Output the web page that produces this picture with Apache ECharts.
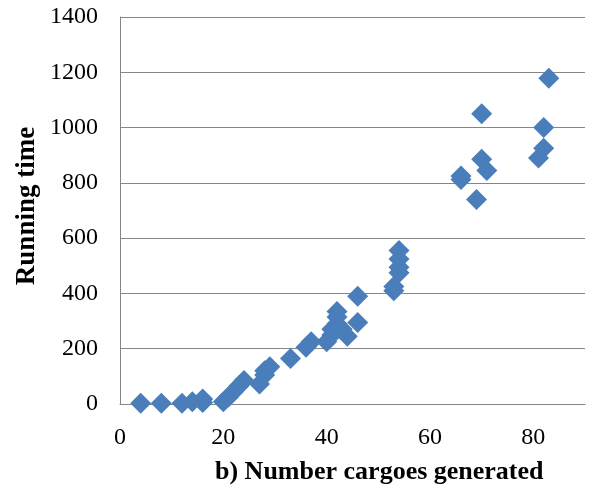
<!DOCTYPE html>
<html>
<head>
<meta charset="utf-8">
<script src="https://cdn.jsdelivr.net/npm/echarts@6/dist/echarts.min.js"></script>
<style>html,body{margin:0;padding:0;background:#fff;}#c{width:589px;height:488px;}</style>
</head>
<body>
<div id="c"></div>
<script>
const cargoes = [4, 8, 12, 14, 16, 16, 20, 21, 22, 23, 24, 27, 28, 28, 29, 33, 36, 37, 40, 41, 41, 42, 42, 42, 43, 44, 46, 46, 53, 53, 54, 54, 54, 54, 66, 66, 69, 70, 70, 71, 81, 82, 82, 83];
const runningTime = [3, 3, 3, 8, 5, 18, 8, 25, 45, 65, 85, 72, 105, 120, 135, 165, 205, 225, 225, 250, 270, 290, 315, 335, 270, 245, 295, 390, 410, 425, 475, 495, 525, 555, 812, 825, 740, 1050, 885, 845, 890, 925, 1000, 1178];
const xTicks = [0, 20, 40, 60, 80];
const yTicks = [0, 200, 400, 600, 800, 1000, 1200, 1400];
const xTitle = 'b) Number cargoes generated';
const yTitle = 'Running time';

const points = cargoes.map((x, i) => [x, runningTime[i]]);
const chart = echarts.init(document.getElementById('c'), null, {renderer: 'canvas'});
const font = 'Liberation Serif';
chart.setOption({
  animation: false,
  backgroundColor: '#fff',
  grid: {left: 120, right: 4, top: 17, bottom: 84, containLabel: false},
  xAxis: {
    type: 'value', min: 0, max: 90, interval: 20,
    axisLine: {show: true, lineStyle: {color: '#868686', width: 1}},
    axisTick: {show: false},
    splitLine: {show: false},
    axisLabel: {
      showMaxLabel: false, margin: 22, color: '#000', fontFamily: font, fontSize: 24,
      formatter: v => xTicks.includes(v) ? String(v) : ''
    }
  },
  yAxis: {
    type: 'value', min: 0, max: 1400, interval: 200,
    axisLine: {show: true, lineStyle: {color: '#868686', width: 1}},
    axisTick: {show: false},
    splitLine: {show: true, lineStyle: {color: '#868686', width: 1}},
    axisLabel: {
      margin: 22, color: '#000', fontFamily: font, fontSize: 24,
      formatter: v => yTicks.includes(v) ? String(v) : ''
    }
  },
  series: [{
    type: 'scatter',
    symbol: 'diamond',
    symbolSize: 21,
    itemStyle: {color: '#4a7ebb', opacity: 1},
    data: points
  }],
  graphic: [
    {type: 'text', left: 215, top: 459, style: {text: xTitle, fontFamily: font, fontSize: 26, fontWeight: 'bold', fill: '#000'}},
    {type: 'text', x: 27, y: 206, rotation: Math.PI / 2, style: {text: yTitle, fontFamily: font, fontSize: 27, fontWeight: 'bold', fill: '#000', align: 'center', verticalAlign: 'middle'}}
  ]
});
</script>
</body>
</html>
